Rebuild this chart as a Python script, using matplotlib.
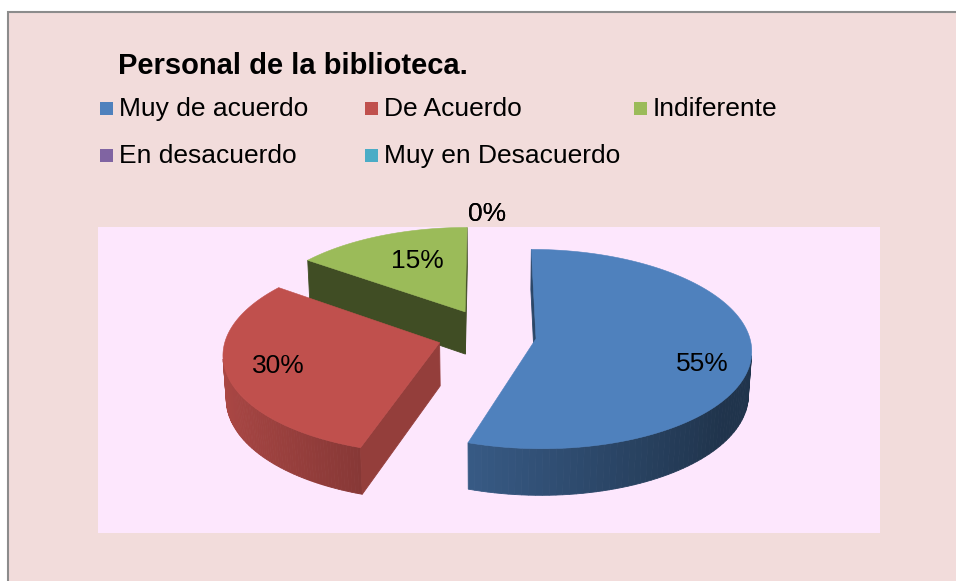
import numpy as np
import matplotlib.pyplot as plt
from matplotlib.patches import Polygon, Rectangle
from matplotlib.colors import to_rgb

plt.rcParams['font.family'] = ['Liberation Sans', 'DejaVu Sans']

# datos del grafico
title = 'Personal de la biblioteca.'
categories = ['Muy de acuerdo', 'De Acuerdo', 'Indiferente',
              'En desacuerdo', 'Muy en Desacuerdo']
values = [55, 30, 15, 0, 0]
colors = ['#4F81BD', '#C0504D', '#9BBB59', '#8064A2', '#4BACC6']
cut_shade = [0.55, 0.77, 0.41, 0.5, 0.5]  # sombra de las caras de corte
label_nudge = [(5, 14), (-3, 0), (17, 7), (0, 4), (0, 4)]  # px

W, H = 956, 581

# geometria de la torta 3D (en pixeles del lienzo)
CX, CY = 487, 334.5
SCALE = 213
TILT = np.radians(27.3)
DIST = 8.5
DEPTH = 0.23
EXPLODE = 0.232
EXPLODE_Z = 1.15
LABEL_R = 0.75
ZERO_R = 1.2


def project(x, z, h=0.0):
    x = np.asarray(x, float)
    z = np.asarray(z, float)
    s = DIST / (DIST - (h * np.sin(TILT) + z * np.cos(TILT)))
    px = CX + SCALE * x * s
    py = CY - SCALE * (h * np.cos(TILT) - z * np.sin(TILT)) * s
    return px, py


def shade(col, f):
    return tuple(min(1, c * f) for c in to_rgb(col))


def facing(px, pz, nx, nz):
    # camara en (0, D sin, D cos) -> cara visible si mira hacia ella
    return (0 - px) * nx + (DIST * np.cos(TILT) - pz) * nz > 0


fig = plt.figure(figsize=(W / 100, H / 100), dpi=100)
fig.patch.set_facecolor('white')
ax = fig.add_axes([0, 0, 1, 1])
ax.set_xlim(0, W)
ax.set_ylim(H, 0)
ax.axis('off')

# fondo del grafico y area de trazado
ax.add_patch(Rectangle((8, 12), W, H, facecolor='#F2DCDB',
                       edgecolor='#8C8C8C', lw=1.5))
ax.add_patch(Rectangle((98, 227), 782, 306, facecolor='#FDE7FD', lw=0))

total = sum(values)
bounds = np.concatenate([[0], np.cumsum(values)]) / total * 360

slices = []
for i, v in enumerate(values):
    a0, a1 = bounds[i], bounds[i + 1]
    mid = np.radians((a0 + a1) / 2)
    ox, oz = EXPLODE * np.sin(mid), -EXPLODE * EXPLODE_Z * np.cos(mid)
    slices.append((i, a0, a1, mid, ox, oz))

# de atras hacia adelante
for i, a0, a1, mid, ox, oz in sorted(slices, key=lambda s: s[5]):
    if values[i] == 0:
        continue
    col = colors[i]
    th = np.radians(np.linspace(a0, a1, 120))
    rx, rz = ox + np.sin(th), oz - np.cos(th)

    # pared exterior
    for k in range(len(th) - 1):
        tm = (th[k] + th[k + 1]) / 2
        if not facing(ox + np.sin(tm), oz - np.cos(tm), np.sin(tm), -np.cos(tm)):
            continue
        xs = [rx[k], rx[k + 1], rx[k + 1], rx[k]]
        zs = [rz[k], rz[k + 1], rz[k + 1], rz[k]]
        hs = [0, 0, -DEPTH, -DEPTH]
        px, py = project(xs, zs, np.array(hs))
        f = max(0.40, 0.62 - 0.27 * np.sin(tm))
        c = shade(col, f)
        ax.add_patch(Polygon(np.c_[px, py], closed=True, facecolor=c,
                             edgecolor=c, lw=0.6))

    # caras de corte
    for ang, sgn in ((a0, -1), (a1, 1)):
        phi = np.radians(ang + sgn * 90)
        if not facing(ox, oz, np.sin(phi), -np.cos(phi)):
            continue
        ex, ez = ox + np.sin(np.radians(ang)), oz - np.cos(np.radians(ang))
        px, py = project([ox, ex, ex, ox], [oz, ez, ez, oz],
                         np.array([0, 0, -DEPTH, -DEPTH]))
        c = shade(col, cut_shade[i])
        ax.add_patch(Polygon(np.c_[px, py], closed=True, facecolor=c,
                             edgecolor=c, lw=0.6))

    # cara superior
    px, py = project(np.r_[ox, rx], np.r_[oz, rz])
    ax.add_patch(Polygon(np.c_[px, py], closed=True, facecolor=col,
                         edgecolor=col, lw=0.4))

# etiquetas de porcentaje
for i, a0, a1, mid, ox, oz in slices:
    r = LABEL_R if values[i] else ZERO_R
    lx, lz = ox + r * np.sin(mid), oz - r * np.cos(mid)
    px, py = project(lx, lz)
    dx, dy = label_nudge[i]
    ax.text(px + dx, py + dy, f'{values[i] / total * 100:.0f}%', fontsize=19,
            ha='center', va='center')

# titulo y leyenda
ax.text(118, 74.5, title, fontsize=21, fontweight='bold', va='baseline')
LEG_X = [100, 365, 634]
LEG_Y = [108, 155]
for i, (cat, col) in enumerate(zip(categories, colors)):
    r, c = divmod(i, 3)
    ax.add_patch(Rectangle((LEG_X[c], LEG_Y[r] - 6.5), 13, 13,
                           facecolor=col, lw=0))
    ax.text(LEG_X[c] + 19, LEG_Y[r] + 8, cat, fontsize=19, va='baseline')

fig.savefig('out.png', dpi=100, facecolor=fig.get_facecolor())
